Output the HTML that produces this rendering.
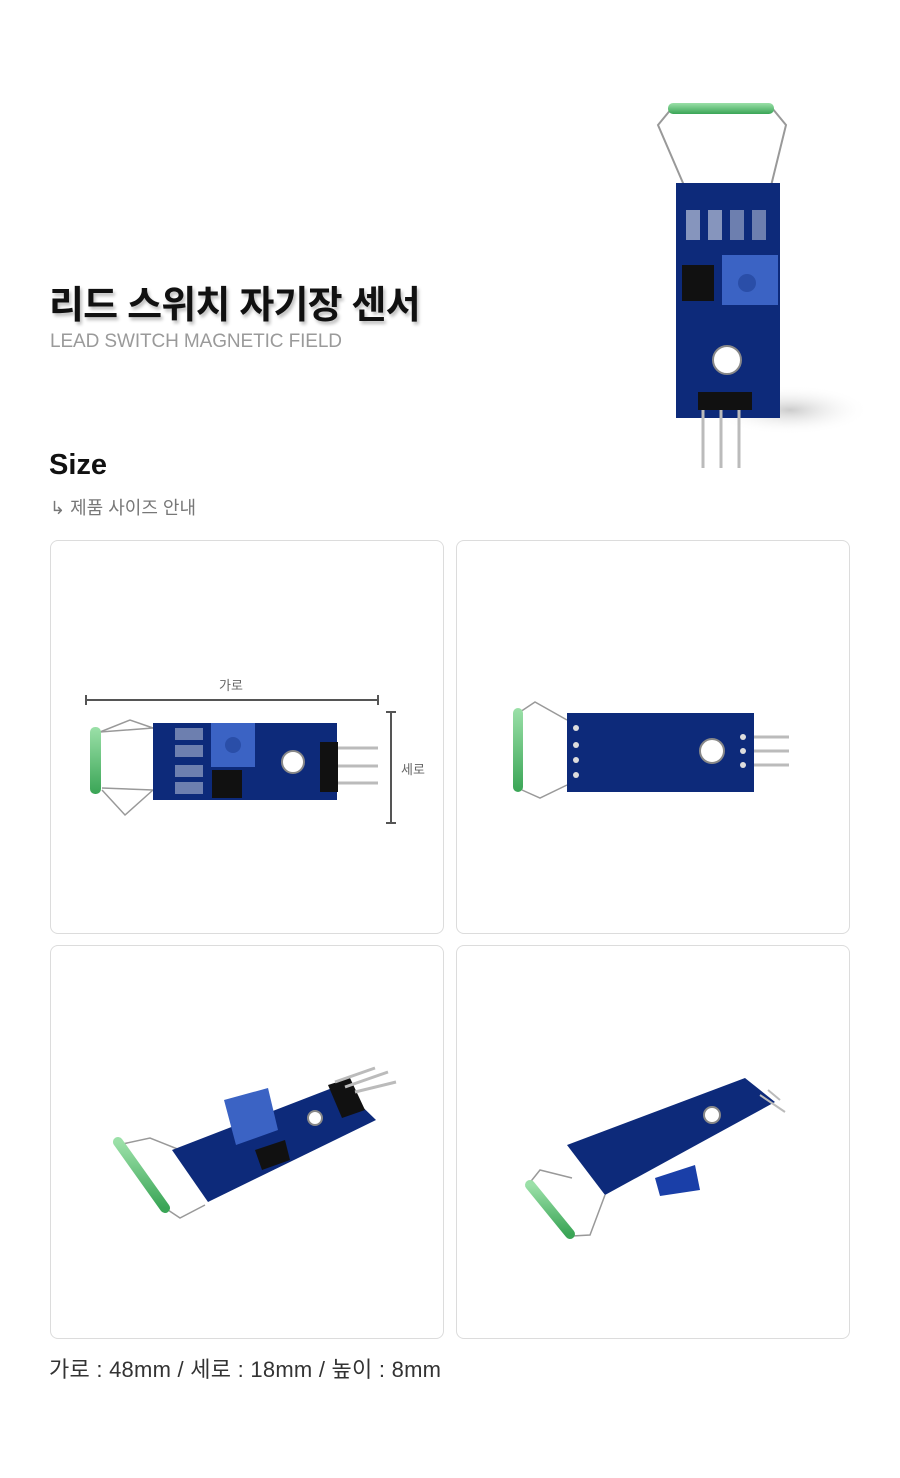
<!DOCTYPE html>
<html><head><meta charset="utf-8"><style>
*{margin:0;padding:0;box-sizing:border-box}
body{width:900px;height:1478px;background:#fff;font-family:"Liberation Sans","Noto Sans CJK KR",sans-serif;position:relative;overflow:hidden}
.t{position:absolute;white-space:nowrap}
.box{position:absolute;width:394px;height:394px;border:1px solid #dcdcdc;border-radius:8px;background:#fff}
svg{position:absolute;left:0;top:0}
</style></head><body>
<div class="t" style="left:49px;top:274px;font-size:38px;font-weight:bold;color:#111;letter-spacing:-0.8px;text-shadow:2px 3px 3px rgba(0,0,0,0.25)">리드 스위치 자기장 센서</div>
<div class="t" style="left:50px;top:331px;font-size:19px;color:#9a9a9a;letter-spacing:-0.1px">LEAD SWITCH MAGNETIC FIELD</div>
<div class="t" style="left:49px;top:449px;font-size:29px;font-weight:bold;color:#111">Size</div>
<div class="t" style="left:50px;top:494px;font-size:18px;color:#777">↳ 제품 사이즈 안내</div>
<div class="box" style="left:50px;top:540px"></div>
<div class="box" style="left:456px;top:540px"></div>
<div class="box" style="left:50px;top:945px"></div>
<div class="box" style="left:456px;top:945px"></div>
<div class="t" style="left:49px;top:1352px;font-size:22px;color:#333;letter-spacing:0.25px">가로 : 48mm / 세로 : 18mm / 높이 : 8mm</div>
<div class="t" style="left:219px;top:675px;font-size:13px;color:#666">가로</div>
<div class="t" style="left:401px;top:759px;font-size:13px;color:#666">세로</div>
<svg width="900" height="1478" viewBox="0 0 900 1478">
<defs><linearGradient id="g" x1="0" y1="0" x2="0" y2="1"><stop offset="0" stop-color="#9be0a8"/><stop offset="1" stop-color="#3aa556"/></linearGradient>
<radialGradient id="sh"><stop offset="0" stop-color="#ccc"/><stop offset="1" stop-color="#fff" stop-opacity="0"/></radialGradient></defs>
<ellipse cx="790" cy="410" rx="80" ry="25" fill="url(#sh)"/>
<path d="M686 190 L658 125 L672 108 M770 190 L786 125 L772 108" stroke="#999" stroke-width="2" fill="none"/>
<rect x="668" y="103" width="106" height="11" rx="5" fill="url(#g)"/>
<rect x="676" y="183" width="104" height="235" fill="#0d2a7a"/>
<rect x="722" y="255" width="56" height="50" fill="#3b63c4"/><circle cx="747" cy="283" r="9" fill="#2a4ea8"/>
<rect x="682" y="265" width="32" height="36" fill="#111"/>
<rect x="686" y="210" width="14" height="30" fill="#fff" opacity=".5"/><rect x="708" y="210" width="14" height="30" fill="#fff" opacity=".5"/><rect x="730" y="210" width="14" height="30" fill="#fff" opacity=".4"/><rect x="752" y="210" width="14" height="30" fill="#fff" opacity=".4"/>
<circle cx="727" cy="360" r="14" fill="#fff" stroke="#888" stroke-width="2"/>
<rect x="698" y="392" width="54" height="18" fill="#111"/>
<path d="M703 410V468M721 410V468M739 410V468" stroke="#bbb" stroke-width="3"/>
<path d="M86 700H378M86 695V705M378 695V705M391 712V823M386 712H396M386 823H396" stroke="#555" stroke-width="2"/>
<path d="M153 728 L100 732 M153 790 L102 788" stroke="#999" stroke-width="1.5" fill="none"/>
<path d="M100 732 L130 720 L153 728 M102 790 L125 815 L153 790" stroke="#999" stroke-width="1.5" fill="none"/>
<rect x="90" y="727" width="11" height="67" rx="5" fill="url(#g)"/>
<rect x="153" y="723" width="184" height="77" fill="#0d2a7a"/>
<rect x="211" y="723" width="44" height="44" fill="#3b63c4"/><circle cx="233" cy="745" r="8" fill="#2a4ea8"/>
<rect x="212" y="770" width="30" height="28" fill="#111"/>
<circle cx="293" cy="762" r="11" fill="#fff" stroke="#888" stroke-width="2"/>
<rect x="175" y="728" width="28" height="12" fill="#fff" opacity=".4"/><rect x="175" y="745" width="28" height="12" fill="#fff" opacity=".4"/><rect x="175" y="765" width="28" height="12" fill="#fff" opacity=".4"/><rect x="175" y="782" width="28" height="12" fill="#fff" opacity=".4"/>
<rect x="320" y="742" width="18" height="50" fill="#111"/>
<path d="M338 748H378M338 766H378M338 783H378" stroke="#bbb" stroke-width="3"/>
<path d="M567 720 L535 702 L520 712 M567 785 L540 798 L522 790" stroke="#999" stroke-width="1.5" fill="none"/>
<rect x="513" y="708" width="10" height="84" rx="5" fill="url(#g)"/>
<rect x="567" y="713" width="187" height="79" fill="#0d2a7a"/>
<circle cx="712" cy="751" r="12" fill="#fff" stroke="#888" stroke-width="2"/>
<circle cx="576" cy="728" r="3" fill="#ddd"/><circle cx="576" cy="745" r="3" fill="#ddd"/><circle cx="576" cy="760" r="3" fill="#ddd"/><circle cx="576" cy="775" r="3" fill="#ddd"/>
<circle cx="743" cy="737" r="3" fill="#ddd"/><circle cx="743" cy="751" r="3" fill="#ddd"/><circle cx="743" cy="765" r="3" fill="#ddd"/>
<path d="M754 737H789M754 751H789M754 765H789" stroke="#bbb" stroke-width="3"/>
<path d="M180 1150 L150 1138 L118 1145 M205 1205 L180 1218 L165 1208" stroke="#999" stroke-width="1.5" fill="none"/>
<path d="M118 1142 L165 1208" stroke="url(#g)" stroke-width="10" stroke-linecap="round"/>
<polygon points="172,1150 340,1085 376,1120 208,1202" fill="#0d2a7a"/>
<polygon points="224,1100 268,1088 278,1130 236,1145" fill="#3b63c4"/>
<polygon points="255,1150 285,1140 290,1160 262,1170" fill="#111"/>
<circle cx="315" cy="1118" r="7" fill="#fff" stroke="#888" stroke-width="2"/>
<polygon points="328,1085 350,1078 365,1110 342,1118" fill="#111"/>
<path d="M335 1082L375 1068M345 1087L388 1072M355 1092L396 1082" stroke="#bbb" stroke-width="3"/>
<path d="M572 1178 L540 1170 L528 1185 M605 1195 L590 1235 L572 1236" stroke="#999" stroke-width="1.5" fill="none"/>
<path d="M530 1185 L570 1234" stroke="url(#g)" stroke-width="10" stroke-linecap="round"/>
<polygon points="567,1145 745,1078 775,1102 605,1195" fill="#0d2a7a"/>
<polygon points="655,1178 695,1165 700,1190 660,1196" fill="#1a3fa8"/>
<circle cx="712" cy="1115" r="8" fill="#fff" stroke="#888" stroke-width="2"/>
<path d="M760 1095L785 1112M768 1090L780 1100" stroke="#bbb" stroke-width="2"/>
</svg>
</body></html>
